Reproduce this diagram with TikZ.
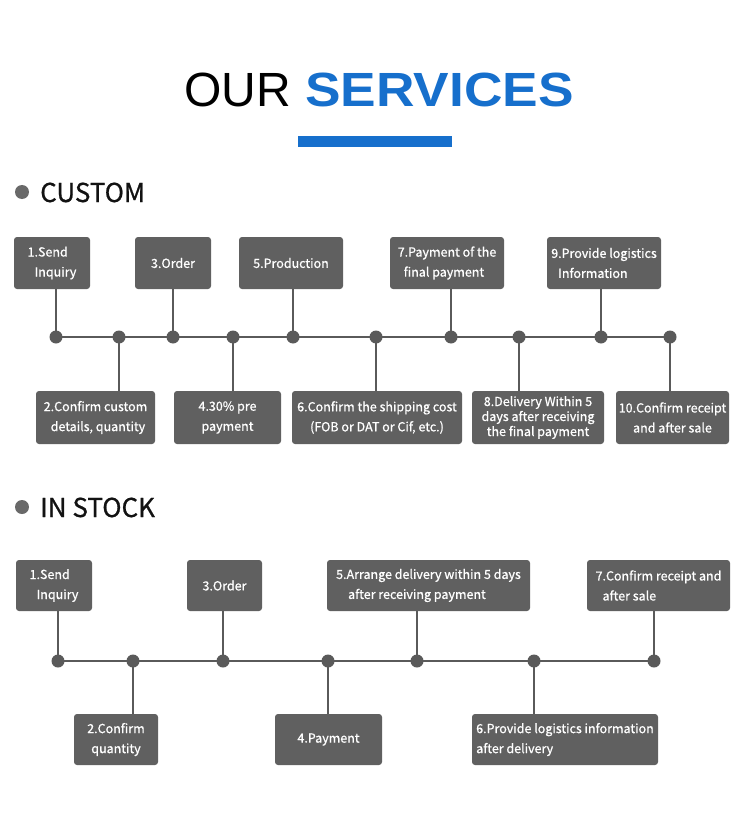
\documentclass[tikz,border=0pt]{standalone}
\usepackage{fontspec}
\setmainfont{Noto Sans CJK SC}[FakeBold=0.8]
\newfontfamily\titlefont{Liberation Sans}
\definecolor{boxgray}{RGB}{96,96,96}
\definecolor{linegray}{RGB}{90,90,90}
\definecolor{bulletgray}{RGB}{105,105,105}
\definecolor{titleblue}{RGB}{22,111,204}
\tikzset{
  stepbox/.style={fill=boxgray, text=white, rounded corners=3pt, inner sep=0pt,
    font=\fontsize{12.5}{20}\selectfont, align=center},
  tdot/.style={circle, fill=linegray, minimum size=13pt, inner sep=0pt},
  conn/.style={draw=linegray, line width=2.6pt},
  heading/.style={anchor=base west, inner sep=0pt, text=black!93, font=\fontsize{26}{30}\selectfont},
  bullet/.style={circle, fill=bulletgray, minimum size=14pt, inner sep=0pt},
}
\begin{document}
\begin{tikzpicture}[x=1pt,y=-1pt]
  \useasboundingbox[fill=white] (0,0) rectangle (750,821);
  % title
  \node[anchor=base west, inner sep=0pt, font=\titlefont\fontsize{48}{50}\selectfont] (our) at (184,107) {OUR};
  \node[anchor=base west, inner sep=0pt, xscale=1.11, text=titleblue, font=\titlefont\bfseries\fontsize{48}{50}\selectfont] (serv) at (305,107) {SERVICES};
  \fill[titleblue] (298,136) rectangle (452,147);

  % custom
  \node[bullet] (bcustom) at (22,192) {};
  \node[heading] (hcustom) at (40,202) {CUSTOM};
  \foreach \i/\x in {1/56,2/119,3/173,4/233,5/293,6/376,7/451,8/519,9/601,10/670}
    \node[tdot] (cdot\i) at (\x,337) {};
  \draw[conn] (cdot1.center) -- (cdot10.center);
  \node[stepbox, minimum width=76, minimum height=52, align=left] (cbox1) at (52,263) {1.Send\\\hspace*{7pt}Inquiry};
  \node[stepbox, minimum width=76, minimum height=52] (cbox3) at (173,263) {3.Order};
  \node[stepbox, minimum width=104, minimum height=52] (cbox5) at (291,263) {5.Production};
  \node[stepbox, minimum width=114, minimum height=52, align=left] (cbox7) at (447,263) {7.Payment of the\\\hspace*{6pt}final payment};
  \node[stepbox, minimum width=114, minimum height=52, align=left] (cbox9) at (604,263) {9.Provide logistics\\\hspace*{7pt}Information};
  \node[stepbox, minimum width=119, minimum height=53, align=left] (cbox2) at (95.5,417.5) {2.Confirm custom\\\hspace*{7pt}details, quantity};
  \node[stepbox, minimum width=107, minimum height=53] (cbox4) at (227.5,417.5) {4.30\% pre\\payment};
  \node[stepbox, minimum width=170, minimum height=53] (cbox6) at (377,417.5) {6.Confirm the shipping cost\\(FOB or DAT or Cif, etc.)};
  \node[stepbox, minimum width=132, minimum height=53, font=\fontsize{12.5}{15}\selectfont] (cbox8) at (538,417.5) {8.Delivery Within 5\\days after receiving\\the final payment};
  \node[stepbox, minimum width=113, minimum height=53] (cbox10) at (672.5,417.5) {10.Confirm receipt\\and after sale};
  \foreach \i/\a in {1/south,2/north,3/south,4/north,5/south,6/north,7/south,8/north,9/south,10/north}
    \draw[conn] (cdot\i.center) -- (cdot\i |- cbox\i.\a);

  % in stock
  \node[bullet] (bstock) at (22,507) {};
  \node[heading] (hstock) at (40,517) {IN STOCK};
  \foreach \i/\x in {1/58,2/133,3/223,4/328,5/417,6/534,7/654}
    \node[tdot] (sdot\i) at (\x,661) {};
  \draw[conn] (sdot1.center) -- (sdot7.center);
  \node[stepbox, minimum width=76, minimum height=51, align=left] (sbox1) at (54,585.5) {1.Send\\\hspace*{7pt}Inquiry};
  \node[stepbox, minimum width=75, minimum height=51] (sbox3) at (224.5,585.5) {3.Order};
  \node[stepbox, minimum width=203, minimum height=51, align=left] (sbox5) at (428.5,585.5) {5.Arrange delivery within 5 days\\\hspace*{12pt}after receiving payment};
  \node[stepbox, minimum width=143, minimum height=51, align=left] (sbox7) at (658.5,585.5) {7.Confirm receipt and\\\hspace*{7pt}after sale};
  \node[stepbox, minimum width=84, minimum height=51] (sbox2) at (116,739.5) {2.Confirm\\quantity};
  \node[stepbox, minimum width=107, minimum height=51] (sbox4) at (328.5,739.5) {4.Payment};
  \node[stepbox, minimum width=186, minimum height=51, align=left] (sbox6) at (565,739.5) {6.Provide logistics information\\after delivery};
  \foreach \i/\a in {1/south,2/north,3/south,4/north,5/south,6/north,7/south}
    \draw[conn] (sdot\i.center) -- (sdot\i |- sbox\i.\a);
\end{tikzpicture}
\end{document}
